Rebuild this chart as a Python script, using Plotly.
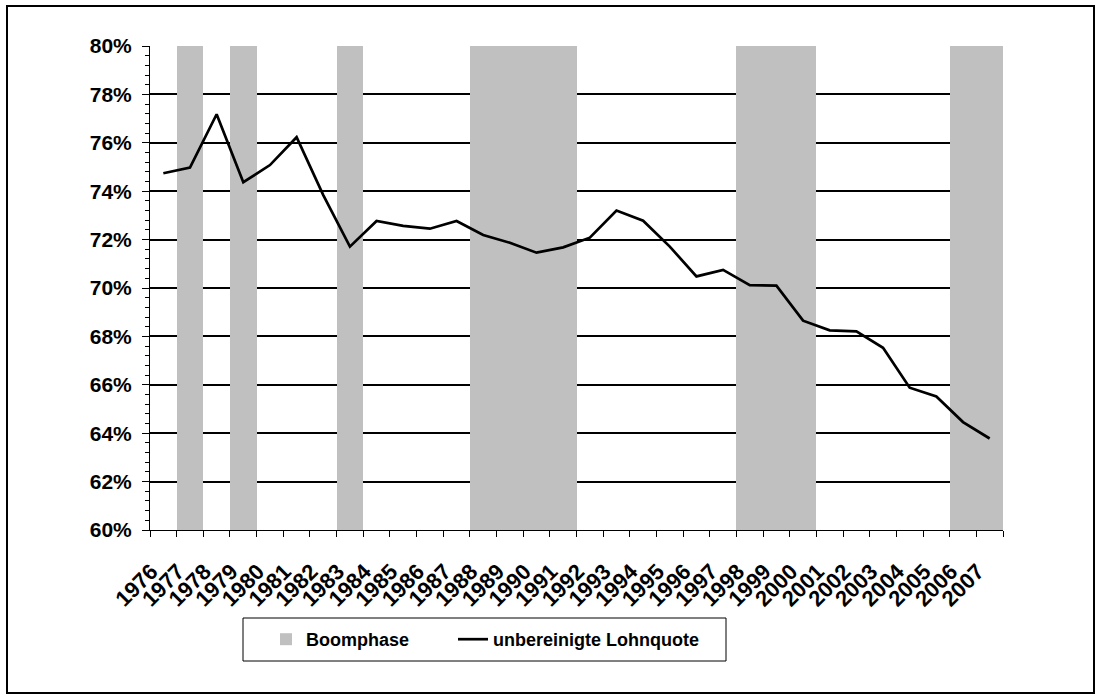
import plotly.graph_objects as go

# Years on the category axis
years = [str(y) for y in range(1976, 2008)]

# Unadjusted wage share (share of national income), in percent
lohnquote = [74.74, 74.98, 77.18, 74.37, 75.08, 76.23, 73.84, 71.71, 72.77, 72.57,
             72.45, 72.77, 72.19, 71.87, 71.46, 71.68, 72.08, 73.20, 72.78, 71.71,
             70.48, 70.75, 70.12, 70.10, 68.65, 68.25, 68.21, 67.53, 65.88, 65.52,
             64.46, 63.78]

# Boom phase years (shaded columns)
boom_years = [1977, 1979, 1983, 1988, 1989, 1990, 1991, 1998, 1999, 2000, 2006, 2007]

y_min, y_max = 0.60, 0.80
boom_vals = [y_max if int(y) in boom_years else None for y in years]
quote_vals = [v / 100 for v in lohnquote]

FONT = "Liberation Sans, Arial, sans-serif"

fig = go.Figure()

fig.add_trace(go.Bar(
    x=years, y=boom_vals, name="Boomphase",
    marker=dict(color="#C0C0C0", line=dict(width=0)),
    hoverinfo="skip", legend="legend",
))

fig.add_trace(go.Scatter(
    x=years, y=quote_vals, name="unbereinigte Lohnquote",
    mode="lines", line=dict(color="black", width=2.7),
    legend="legend2",
))

# Plot area in pixels
W, H = 1097, 698
L, R, T, B = 150, 1003, 46, 530


def px_x(p):
    return (p - L) / (R - L)


def px_y(p):
    return (B - p) / (B - T)


legend_style = dict(
    orientation="h",
    xanchor="left", yanchor="top",
    y=px_y(621),
    borderwidth=0, bgcolor="rgba(0,0,0,0)",
    font=dict(family=FONT, size=18, color="black", weight="bold"),
    itemwidth=30,
)

fig.update_layout(
    width=W, height=H,
    margin=dict(l=L, r=W - R, t=T, b=H - B, pad=0),
    paper_bgcolor="white", plot_bgcolor="white",
    bargap=0,
    font=dict(family=FONT, color="black", size=18, weight="bold"),
    showlegend=True,
    legend=dict(legend_style, x=px_x(266)),
    legend2=dict(legend_style, x=px_x(453)),
    xaxis=dict(
        type="category",
        showgrid=False,
        showline=True, linecolor="black", linewidth=1,
        ticks="outside", ticklen=6, tickcolor="black", tickwidth=1,
        tickson="boundaries",
        tickangle=-45,
        ticklabelshift=-12, ticklabelstandoff=19,
        tickfont=dict(family=FONT, size=22, color="black", weight="bold"),
        range=[-0.5, len(years) - 0.5],
        zeroline=False,
    ),
    yaxis=dict(
        range=[y_min, y_max],
        dtick=0.02, tick0=0.60,
        tickformat=".0%",
        showgrid=True, gridcolor="black", gridwidth=1.5,
        showline=True, linecolor="black", linewidth=1,
        ticks="outside", ticklen=7, tickcolor="black", tickwidth=1,
        ticklabelstandoff=6,
        tickfont=dict(family=FONT, size=21, color="black", weight="bold"),
        minor=dict(dtick=0.004, ticks="outside", ticklen=4,
                   tickcolor="black", tickwidth=1, showgrid=False),
        zeroline=False,
    ),
    yaxis2=dict(
        overlaying="y", side="right",
        range=[y_min, y_max], dtick=0.02, tick0=0.60,
        showgrid=False, showticklabels=False,
        showline=True, linecolor="#808080", linewidth=1.5,
        ticks="inside", ticklen=3, tickcolor="#404040",
        zeroline=False,
    ),
    shapes=[
        # frame around the whole chart
        dict(type="rect", xref="paper", yref="paper",
             x0=px_x(7), x1=px_x(1094), y0=px_y(693), y1=px_y(6),
             line=dict(color="black", width=2), fillcolor="rgba(0,0,0,0)",
             layer="above"),
        # frame around the legend
        dict(type="rect", xref="paper", yref="paper",
             x0=px_x(243), x1=px_x(726), y0=px_y(661), y1=px_y(618),
             line=dict(color="black", width=1), fillcolor="rgba(0,0,0,0)",
             layer="above"),
    ],
)

fig.write_html("out.html")
